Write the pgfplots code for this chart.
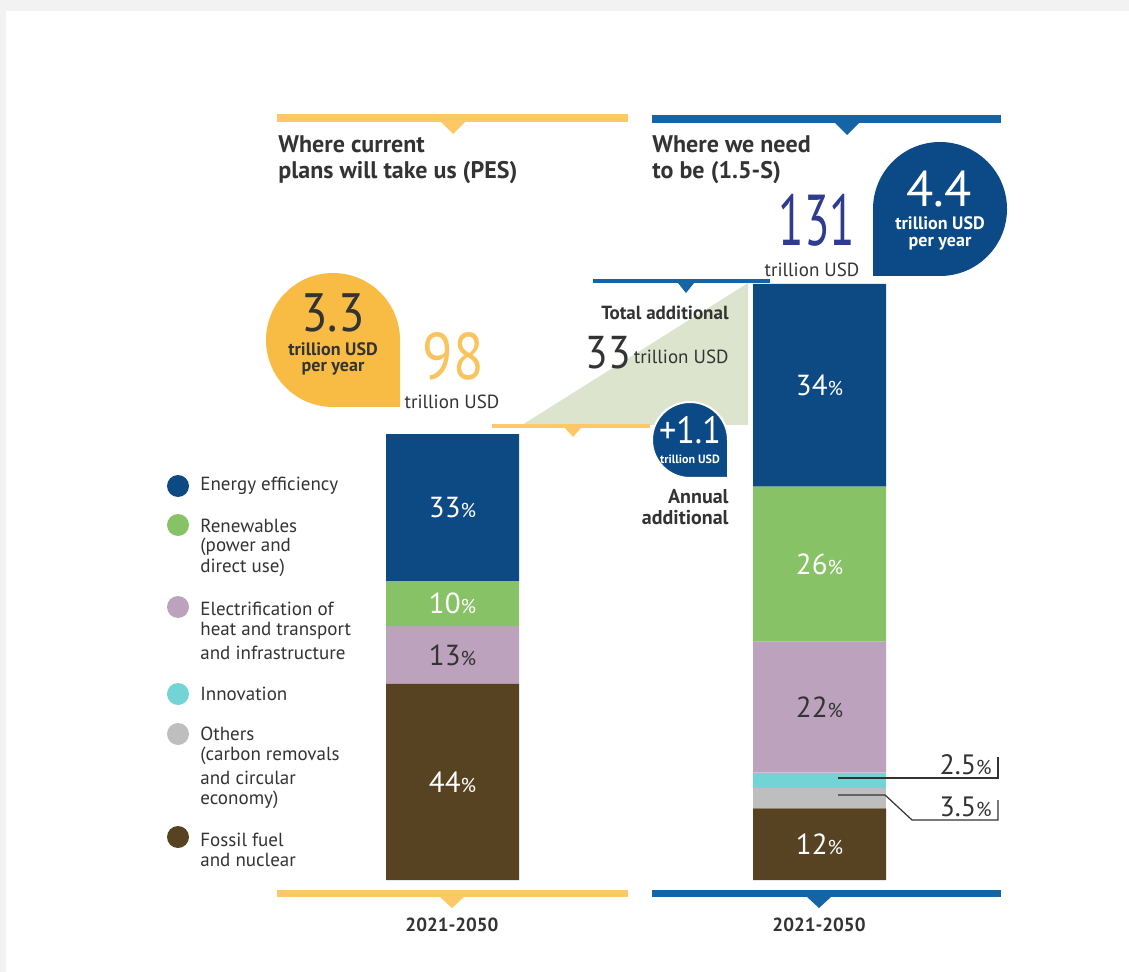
\documentclass[border=0pt]{standalone}
\usepackage{pgfplots}
\pgfplotsset{compat=1.18}
\usepackage{fontspec}
\setmainfont{PT Sans}

\definecolor{bggray}{HTML}{F2F2F2}
\definecolor{effc}{HTML}{0D4A84}
\definecolor{renc}{HTML}{88C266}
\definecolor{elec}{HTML}{BCA2BD}
\definecolor{innc}{HTML}{72D4D4}
\definecolor{othc}{HTML}{BEBEBE}
\definecolor{fosc}{HTML}{574322}
\definecolor{sage}{HTML}{DCE4CD}
\definecolor{lyel}{HTML}{FDC865}
\definecolor{byel}{HTML}{F8BC45}
\definecolor{nyel}{HTML}{F9C45E}
\definecolor{lblue}{HTML}{1565A6}
\definecolor{bblue}{HTML}{0B4A86}
\definecolor{indigo}{HTML}{2E3B8F}
\definecolor{txt}{HTML}{333333}

\newcommand\fs[1]{\fontsize{#1}{#1}\selectfont}
\newcommand\pct{{\fs{10}\%}}
\newcommand\sq[2]{\scalebox{#1}[1]{#2}}

\begin{document}
\begin{tikzpicture}[x=0.5pt,y=-0.5pt,
  every node/.style={inner sep=0pt, text=txt},
  lg/.style={anchor=west, font=\fs{9.5}},
  hd/.style={anchor=west, font=\fs{12}\bfseries},
  sh/.style={font=\fs{14.5}}]
\fill[bggray] (0,0) rectangle (1129,972);
\fill[white] (6,11) rectangle (1129,972);
\useasboundingbox (0,0) rectangle (1129,972);

% additional-investment wedge
\fill[sage] (522,425) -- (748,283) -- (748,425) -- cycle;

\begin{axis}[at={(0pt,-440pt)}, anchor=south west,
    x=0.5pt, y=2.275pt,
    xmin=0, xmax=1129, ymin=0, ymax=180,
    hide axis, clip=false,
    ybar stacked, bar width=66.5pt]
% trillion USD, 2021-2050 (PES = 98, 1.5-S = 131)
\addplot[fill=fosc, draw=none] coordinates {(452.5,43.12) (819.5,15.72)};
\addplot[fill=othc, draw=none] coordinates {(452.5,0) (819.5,4.585)};
\addplot[fill=innc, draw=none] coordinates {(452.5,0) (819.5,3.275)};
\addplot[fill=elec, draw=none] coordinates {(452.5,12.74) (819.5,28.82)};
\addplot[fill=renc, draw=none] coordinates {(452.5,9.8) (819.5,34.06)};
\addplot[fill=effc, draw=none] coordinates {(452.5,32.34) (819.5,44.54)};
\end{axis}

% shares, at the middle of each segment (880 - value * 4.55 px)
\node[sh, text=white] at (452.5,782) {44\pct};
\node[sh] at (452.5,655) {13\pct};
\node[sh, text=white] at (452.5,603.5) {10\pct};
\node[sh, text=white] at (452.5,507.5) {33\pct};
\node[sh, text=white] at (819.5,844) {12\pct};
\node[sh] at (819.5,707) {22\pct};
\node[sh, text=white] at (819.5,564) {26\pct};
\node[sh, text=white] at (819.5,385) {34\pct};

% header rules
\fill[lyel] (277,114) rectangle (628,122);
\fill[lyel] (441,122) -- (465,122) -- (453,134) -- cycle;
\fill[lblue] (652,115) rectangle (1001,123);
\fill[lblue] (835,123) -- (859,123) -- (847,135) -- cycle;
\node[hd] at (278,144) {Where current};
\node[hd] at (278,173) {plans will take us (PES)};
\node[hd] at (652,144) {Where we need};
\node[hd] at (652,173) {to be (1.5-S)};

% footer rules
\fill[lyel] (277,890) rectangle (628,897);
\fill[lyel] (440,897) -- (464,897) -- (452,908) -- cycle;
\fill[lblue] (652,890) rectangle (1001,897);
\fill[lblue] (807,897) -- (831,897) -- (819,908) -- cycle;
\node[font=\fs{9.5}\bfseries] at (452,925) {2021-2050};
\node[font=\fs{9.5}\bfseries] at (819,925) {2021-2050};

% middle rules
\fill[lyel] (492,424) rectangle (650,428);
\fill[lyel] (565,428) -- (581,428) -- (573,437) -- cycle;
\fill[lblue] (593,279) rectangle (770,283);
\fill[lblue] (678,283) -- (694,283) -- (686,293) -- cycle;

% PES totals
\fill[byel] (400,340) -- (400,407) -- (333,407)
  arc[start angle=-90, end angle=-360, radius=33.5pt] -- cycle;
\node[font=\fs{27}] at (333,313) {\sq{0.9}{3.3}};
\node[font=\fs{9}\bfseries] at (333,349) {trillion USD};
\node[font=\fs{9}\bfseries] at (333,369) {per year};
\node[text=nyel, font=\fs{33}] at (453,356) {\sq{0.85}{98}};
\node[font=\fs{9.5}] at (452,402) {trillion USD};

% 1.5-S totals
\fill[bblue] (873,209) -- (873,276) -- (940,276)
  arc[start angle=-90, end angle=180, radius=33.5pt] -- cycle;
\node[text=white, font=\fs{25}] at (939,189) {4.4};
\node[text=white, font=\fs{9}\bfseries] at (940,223) {trillion USD};
\node[text=white, font=\fs{9}\bfseries] at (940,244) {per year};
\node[text=indigo, font=\fs{36}] at (817,220) {\sq{0.65}{131}};
\node[font=\fs{9.5}] at (812,270) {trillion USD};

% additional
\node[anchor=east, font=\fs{9.5}\bfseries] at (729,313) {Total additional};
\node[font=\fs{23}] at (608,353) {\sq{0.9}{33}};
\node[anchor=east, font=\fs{9.5}] at (729,357) {trillion USD};
\filldraw[fill=bblue, draw=white, line width=1pt] (728,440) -- (728,478) -- (690,478)
  arc[start angle=-90, end angle=-360, radius=19pt] -- cycle;
\node[text=white, font=\fs{19}] at (690,430) {\sq{0.9}{+1.1}};
\node[text=white, font=\fs{6}\bfseries] at (690,459) {trillion USD};
\node[anchor=east, font=\fs{10}\bfseries] at (729,497) {Annual};
\node[anchor=east, font=\fs{10}\bfseries] at (729,518) {additional};

% small-share call-outs
\draw[txt, line width=0.6pt] (838,778) -- (998,778) -- (998,757);
\draw[txt, line width=0.6pt] (838,795) -- (885,795) -- (912,820) -- (998,820) -- (998,800);
\node[anchor=east, font=\fs{14}] at (992,765) {2.5{\fs{10}\%}};
\node[anchor=east, font=\fs{14}] at (992,807) {3.5{\fs{10}\%}};

% legend
\fill[effc] (178,486) circle[radius=5.5pt];
\fill[renc] (178,525) circle[radius=5.5pt];
\fill[elec] (178,607) circle[radius=5.5pt];
\fill[innc] (178,694) circle[radius=5.5pt];
\fill[othc] (178,734) circle[radius=5.5pt];
\fill[fosc] (178,837) circle[radius=5.5pt];
\node[lg] at (200,486) {Energy efficiency};
\node[lg] at (200,526) {Renewables};
\node[lg] at (200,547) {(power and};
\node[lg] at (200,568) {direct use)};
\node[lg] at (200,609) {Electrification of};
\node[lg] at (200,631) {heat and transport};
\node[lg] at (200,653) {and infrastructure};
\node[lg] at (200,694) {Innovation};
\node[lg] at (200,734) {Others};
\node[lg] at (200,756) {(carbon removals};
\node[lg] at (200,778) {and circular};
\node[lg] at (200,800) {economy)};
\node[lg] at (200,840) {Fossil fuel};
\node[lg] at (200,860) {and nuclear};
\end{tikzpicture}
\end{document}
